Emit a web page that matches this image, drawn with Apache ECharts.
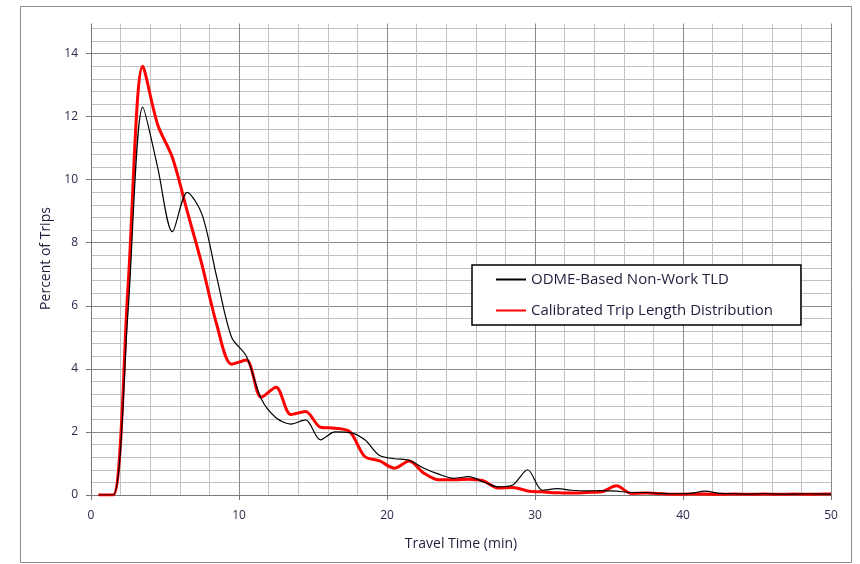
<!DOCTYPE html>
<html>
<head>
<meta charset="utf-8">
<script src="https://cdn.jsdelivr.net/npm/echarts@6/dist/echarts.min.js"></script>
<style>
  html, body { margin: 0; padding: 0; background: #fff; }
  #chart { width: 860px; height: 564px; }
</style>
</head>
<body>
<div id="chart"></div>
<script>
// travel time (min) of each point, shared by both curves
var travelTime = [0.5, 1.5, 2.5, 3.5, 4.5, 5.5, 6.5, 7.5, 8.5, 9.5,
  10.5, 11.5, 12.5, 13.5, 14.5, 15.5, 16.5, 17.5, 18.5, 19.5,
  20.5, 21.5, 22.5, 23.5, 24.5, 25.5, 26.5, 27.5, 28.5, 29.5,
  30.5, 31.5, 32.5, 33.5, 34.5, 35.5, 36.5, 37.5, 38.5, 39.5,
  40.5, 41.5, 42.5, 43.5, 44.5, 45.5, 46.5, 47.5, 48.5, 49.5, 50];

// percent of trips
var odmeTld = [0, 0, 5.8, 12.3, 10.4, 8.35, 9.6, 8.9, 6.9, 5.0,
  4.4, 3.05, 2.45, 2.25, 2.38, 1.75, 2.0, 1.98, 1.75, 1.25,
  1.15, 1.1, 0.85, 0.66, 0.53, 0.58, 0.42, 0.26, 0.32, 0.8,
  0.15, 0.2, 0.15, 0.13, 0.14, 0.12, 0.08, 0.08, 0.05, 0.04,
  0.05, 0.12, 0.05, 0.04, 0.03, 0.04, 0.03, 0.03, 0.04, 0.03, 0.03];

var calibratedTld = [0, 0, 6.6, 13.6, 11.75, 10.7, 9.0, 7.3, 5.4, 4.15,
  4.28, 3.1, 3.42, 2.55, 2.65, 2.15, 2.12, 2.0, 1.22, 1.08,
  0.85, 1.08, 0.69, 0.48, 0.48, 0.5, 0.45, 0.22, 0.24, 0.13,
  0.1, 0.07, 0.06, 0.08, 0.1, 0.29, 0.05, 0.06, 0.04, 0.02,
  0.03, 0.03, 0.02, 0.03, 0.02, 0.03, 0.02, 0.03, 0.02, 0.03, 0.03];

var seriesNames = ['ODME-Based Non-Work TLD', 'Calibrated Trip Length Distribution'];

function pairs(ys) {
  return travelTime.map(function (t, i) { return [t, ys[i]]; });
}

var font = '"Open Sans", Lato, sans-serif';
var textColor = '#1e1e3c';
var myChart = echarts.init(document.getElementById('chart'), null, { renderer: 'canvas' });

myChart.setOption({
  animation: false,
  backgroundColor: '#fff',
  textStyle: { fontFamily: font },
  graphic: [{
    type: 'rect',
    shape: { x: 20.5, y: 6.5, width: 831, height: 556 },
    style: { fill: 'none', stroke: '#8c8c8c', lineWidth: 1 },
    silent: true
  }, {
    // no border line on top of the plot in the original
    type: 'rect',
    shape: { x: 80, y: 21, width: 753, height: 2.5 },
    style: { fill: '#fff' },
    z: 50,
    silent: true
  }],
  grid: { left: 91, right: 29, top: 22, bottom: 69 },
  legend: {
    orient: 'vertical',
    left: 472,
    top: 265,
    padding: [7, 28, 7, 23],
    itemWidth: 30,
    itemHeight: 14,
    itemGap: 16,
    borderColor: '#000',
    borderWidth: 1.5,
    backgroundColor: '#fff',
    itemStyle: { opacity: 0 },
    textStyle: { fontFamily: font, fontSize: 15, color: textColor },
    data: seriesNames
  },
  xAxis: {
    type: 'value',
    min: 0,
    max: 50,
    interval: 10,
    name: 'Travel Time (min)',
    nameLocation: 'middle',
    nameGap: 42,
    nameTextStyle: { fontFamily: font, fontSize: 14, color: textColor },
    axisLine: { show: true, lineStyle: { color: '#7a7a7a', width: 1 } },
    axisTick: { show: true, length: 5, lineStyle: { color: '#7a7a7a' } },
    axisLabel: { margin: 15, fontFamily: font, fontSize: 12, color: '#2a2a48' },
    splitLine: { show: true, lineStyle: { color: '#8a8a8a', width: 1 } },
    minorTick: { show: false, splitNumber: 5 },
    minorSplitLine: { show: true, lineStyle: { color: '#c2c2c2', width: 1 } }
  },
  yAxis: [{
    // minor grid, every 0.4
    type: 'value',
    min: 0,
    max: 15,
    interval: 0.4,
    position: 'left',
    axisLine: { show: false },
    axisTick: { show: false },
    axisLabel: { show: false },
    splitLine: { show: true, lineStyle: { color: '#c2c2c2', width: 1 } }
  }, {
    type: 'value',
    min: 0,
    max: 15,
    interval: 2,
    position: 'left',
    name: 'Percent of Trips',
    nameLocation: 'middle',
    nameGap: 37,
    nameTextStyle: { fontFamily: font, fontSize: 14, color: textColor },
    axisLine: { show: true, lineStyle: { color: '#7a7a7a', width: 1 } },
    axisTick: { show: true, length: 5, lineStyle: { color: '#7a7a7a' } },
    axisLabel: {
      margin: 13, fontFamily: font, fontSize: 12, color: '#2a2a48',
      formatter: function (v) { return v > 14 ? '' : String(v); }
    },
    splitLine: { show: true, lineStyle: { color: '#8a8a8a', width: 1 } }
  }],
  series: [{
    name: seriesNames[0],
    type: 'line',
    yAxisIndex: 1,
    data: pairs(odmeTld),
    smooth: 0.3,
    symbol: 'none',
    color: '#000',
    lineStyle: { color: '#000', width: 1.2 },
    z: 3
  }, {
    name: seriesNames[1],
    type: 'line',
    yAxisIndex: 1,
    data: pairs(calibratedTld),
    smooth: 0.3,
    symbol: 'none',
    color: '#ff0000',
    lineStyle: { color: '#ff0000', width: 3 },
    z: 2
  }]
});
</script>
</body>
</html>
